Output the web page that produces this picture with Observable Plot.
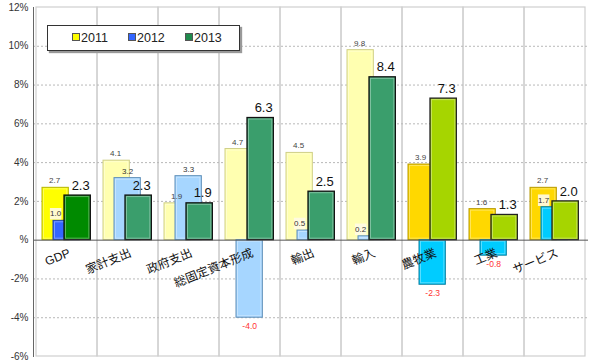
<!DOCTYPE html>
<html><head><meta charset="utf-8">
<script src="https://cdn.jsdelivr.net/npm/d3@7"></script>
<script src="https://cdn.jsdelivr.net/npm/@observablehq/plot@0.6"></script>
<style>
body{margin:0;background:#fff;font-family:"Liberation Sans","Noto Sans CJK JP",sans-serif}
#wrap{position:relative;width:589px;height:363px}
#legend{position:absolute;left:47px;top:25px;width:191px;height:24px;border:1px solid #333;background:#fff;box-shadow:2px 2px 1px #999}
.item{position:absolute;top:5px;font-size:12.5px;color:#222;line-height:14px}
.sw{display:inline-block;width:6px;height:6px;border:1px solid #555;margin-right:1px;vertical-align:1px}
</style></head>
<body><div id="wrap"></div>
<script>
const categories = ["GDP","家計支出","政府支出","総固定資本形成","輸出","輸入","農牧業","工業","サービス"];
const groups = ["gdp","demand","demand","demand","demand","demand","supply","supply","supply"];
const years = ["2011","2012","2013"];
const v2011 = [2.7,4.1,1.9,4.7,4.5,9.8,3.9,1.6,2.7];
const v2012 = [1.0,3.2,3.3,-4.0,0.5,0.2,-2.3,-0.8,1.7];
const v2013 = [2.3,2.3,1.9,6.3,2.5,8.4,7.3,1.3,2.0];
const yTicks = [-6,-4,-2,0,2,4,6,8,10,12];

const palette = {
  gdp:    {"2011":["#FFFF00","#B5B500"], "2012":["#3366FF","#1F3FA0"], "2013":["#008A00","#111111"]},
  demand: {"2011":["#FFFFB0","#CFCF88"], "2012":["#A6D6FF","#5E8EB8"], "2013":["#3A9E6C","#111111"]},
  supply: {"2011":["#FFD800","#B89A00"], "2012":["#00CCFF","#0A7FA0"], "2013":["#A6D500","#222222"]}
};
const legendColors = {"2011":"#FFFF00","2012":"#3366FF","2013":"#1F8A4C"};

const series = {"2011":v2011,"2012":v2012,"2013":v2013};
const rows = years.flatMap(yr => categories.map((c,i) => ({cat:c, year:yr, value:series[yr][i], group:groups[i], next: v2013[i]})));

const W = 589, H = 363, mL = 33, mR = 1;
const bw = (W - mL - mR) / categories.length;
const barW = 27;
const offs = {"2011":6, "2012":17, "2013":28};
const byYear = yr => rows.filter(d => d.year === yr);
const dxOf = yr => offs[yr] + barW/2 - bw/2;

const barMarks = years.flatMap(yr => [
  Plot.barY(byYear(yr), {x:"cat", y:"value",
    fill: d => palette[d.group][yr][0], stroke: d => palette[d.group][yr][1],
    strokeWidth: yr === "2013" ? 1.3 : 1,
    insetLeft: offs[yr], insetRight: bw - offs[yr] - barW}),
  Plot.barY(byYear(yr), {x:"cat", y:"value", fill:"none", stroke:"#fff", strokeOpacity:0.35,
    insetLeft: offs[yr]+1.5, insetRight: bw - offs[yr] - barW + 1.5, insetTop:1.5, insetBottom:1.5})
]);

// 2012 positive labels: centred on their bar unless hidden by the taller 2013 bar
const pos12 = byYear("2012").filter(d => d.value >= 0);
const pos12Clear = pos12.filter(d => d.value >= d.next);
const pos12Shift = pos12.filter(d => d.value < d.next);

const chart = Plot.plot({
  width: W, height: H,
  marginLeft: mL, marginRight: mR, marginTop: 7, marginBottom: 7,
  style: {fontFamily: '"Liberation Sans","Noto Sans CJK JP",sans-serif', background:"#fff"},
  x: {domain: categories, padding: 0, axis: null},
  y: {domain: [-6, 12], axis: null},
  color: {type: "identity"},
  marks: [
    Plot.barY(categories, {x: d => d, y1: () => -6, y2: () => 12, fill: "none", stroke: "#cfcfcf", strokeWidth: 1.2}),
    Plot.ruleY(yTicks.filter(t => t !== 0 && t !== -6 && t !== 12), {stroke: "#b8b8b8", strokeDasharray: "2,2"}),
    ...barMarks,
    Plot.ruleY([0], {stroke: "#555"}),
    Plot.frame({anchor: "left", stroke: "#666"}),
    Plot.axisY({ticks: yTicks, tickSize: 0, tickPadding: 5, fontSize: 10, color: "#333", label: null,
      tickFormat: d => d === 0 ? "%" : d + "%"}),
    Plot.text(categories, {x: d => d, y: () => 0, text: d => d, rotate: -22, textAnchor: "end",
      lineAnchor: "top", dy: 8, dx: 1, fontSize: 12, fill: "#111"}),
    Plot.text(byYear("2011"), {x:"cat", y:"value", text: d => d.value.toFixed(1), dx: dxOf("2011") - 1,
      dy: -7, fontSize: 8, fill: "#444"}),
    Plot.text(pos12Clear, {x:"cat", y:"value", text: d => d.value.toFixed(1),
      dx: dxOf("2012"), dy: -7, fontSize: 8, fill: "#333"}),
    Plot.dot(pos12Shift, {x:"cat", y:"value", symbol: "square", r: 6.5, fill: "#fffbe6", fillOpacity: 0.9,
      dx: dxOf("2012") - 11, dy: -7}),
    Plot.text(pos12Shift, {x:"cat", y:"value", text: d => d.value.toFixed(1),
      dx: dxOf("2012") - 11, dy: -7, fontSize: 8, fill: "#333"}),
    Plot.text(byYear("2012").filter(d => d.value < 0), {x:"cat", y:"value", text: d => d.value.toFixed(1),
      dx: dxOf("2012"), dy: 9, fontSize: 8.5, fill: "#ff3333"}),
    Plot.text(byYear("2013"), {x:"cat", y:"value", text: d => d.value.toFixed(1), dx: dxOf("2013") + 3,
      dy: -10, fontSize: 13, fill: "#111"})
  ]
});

const wrap = document.getElementById("wrap");
wrap.appendChild(chart);
const legend = document.createElement("div");
legend.id = "legend";
const legendLeft = {"2011":24, "2012":80, "2013":137};
years.forEach(yr => {
  const it = document.createElement("div");
  it.className = "item";
  it.style.left = legendLeft[yr] + "px";
  const sw = document.createElement("span");
  sw.className = "sw";
  sw.style.background = legendColors[yr];
  it.appendChild(sw);
  it.appendChild(document.createTextNode(yr));
  legend.appendChild(it);
});
wrap.appendChild(legend);
</script>
</body></html>
